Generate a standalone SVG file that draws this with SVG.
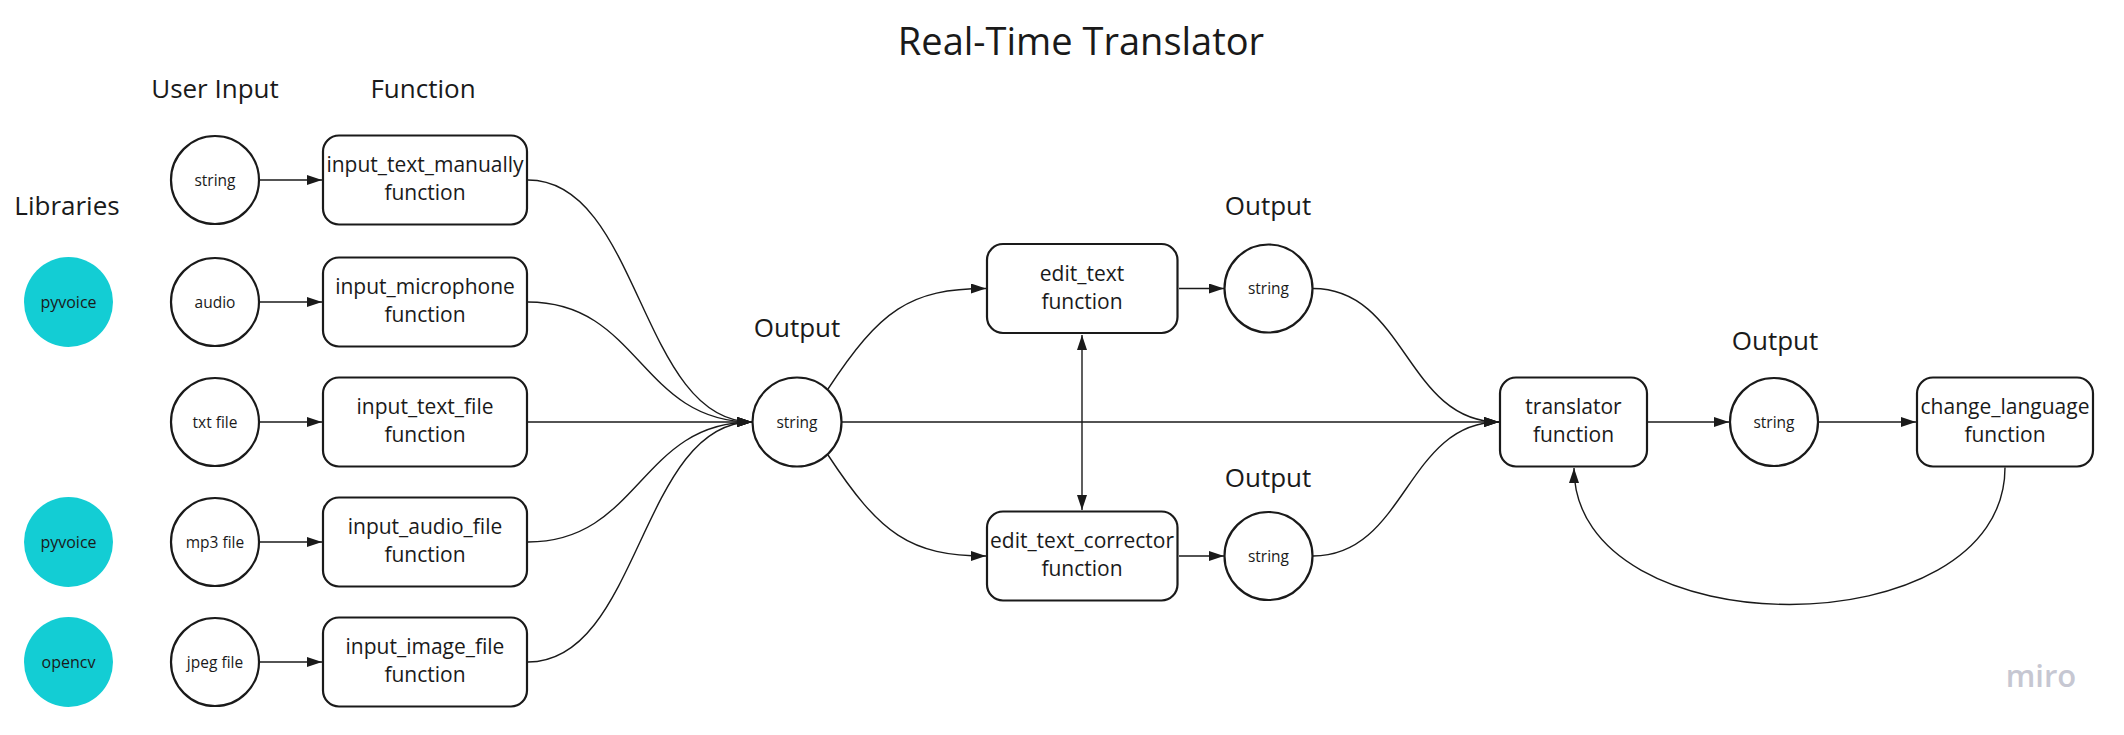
<svg xmlns="http://www.w3.org/2000/svg" width="2124" height="735" viewBox="0 0 2124 735">
<style>
text{font-family:"Open Sans","DejaVu Sans",sans-serif;fill:#1a1a1a;text-anchor:middle}
.title{font-size:38px}
.hdr{font-size:26px}
.lbl{font-size:21px}
.sm{font-size:15.5px}
.lib{font-size:16px;fill:#1a1a1a}
.node{fill:#fff;stroke:#1a1a1a;stroke-width:2.2}
.teal{fill:#13cdd4}
.conn path{fill:none;stroke:#1a1a1a;stroke-width:1.4}
.arr{marker-end:url(#ah)}
.wm{font-size:31px;font-weight:600;fill:#c6c7d2}
</style>
<defs>
<marker id="ah" markerUnits="userSpaceOnUse" markerWidth="16" markerHeight="11" refX="15" refY="5" orient="auto-start-reverse">
<path d="M0,0 L15,5 L0,10 Z" fill="#1a1a1a"/>
</marker>
</defs>
<rect width="2124" height="735" fill="#fff"/>

<g id="headers">
<text class="title" x="1081" y="55">Real-Time Translator</text>
<text class="hdr" x="215" y="98">User Input</text>
<text class="hdr" x="423" y="98">Function</text>
<text class="hdr" x="67" y="215">Libraries</text>
<text class="hdr" x="797" y="337">Output</text>
<text class="hdr" x="1268" y="215">Output</text>
<text class="hdr" x="1268" y="487">Output</text>
<text class="hdr" x="1775" y="350">Output</text>
</g>

<g id="lib-pyvoice-1"><ellipse class="teal" cx="68.5" cy="302" rx="44.5" ry="45"/><text class="lib" x="68.5" y="307.5">pyvoice</text></g>
<g id="lib-pyvoice-2"><ellipse class="teal" cx="68.5" cy="542" rx="44.5" ry="45"/><text class="lib" x="68.5" y="547.5">pyvoice</text></g>
<g id="lib-opencv"><ellipse class="teal" cx="68.5" cy="662" rx="44.5" ry="45"/><text class="lib" x="68.5" y="667.5">opencv</text></g>

<g id="in-string"><circle class="node" cx="215" cy="180" r="44"/><text class="sm" x="215" y="185.5">string</text></g>
<g id="in-audio"><circle class="node" cx="215" cy="302" r="44"/><text class="sm" x="215" y="307.5">audio</text></g>
<g id="in-txt"><circle class="node" cx="215" cy="422" r="44"/><text class="sm" x="215" y="427.5">txt file</text></g>
<g id="in-mp3"><circle class="node" cx="215" cy="542" r="44"/><text class="sm" x="215" y="547.5">mp3 file</text></g>
<g id="in-jpeg"><circle class="node" cx="215" cy="662" r="44"/><text class="sm" x="215" y="667.5">jpeg file</text></g>

<g id="fn-manual"><rect class="node" x="323" y="135.5" width="204" height="89" rx="16"/><text class="lbl" x="425" y="172">input_text_manually</text><text class="lbl" x="425" y="200">function</text></g>
<g id="fn-mic"><rect class="node" x="323" y="257.5" width="204" height="89" rx="16"/><text class="lbl" x="425" y="294">input_microphone</text><text class="lbl" x="425" y="322">function</text></g>
<g id="fn-textfile"><rect class="node" x="323" y="377.5" width="204" height="89" rx="16"/><text class="lbl" x="425" y="414">input_text_file</text><text class="lbl" x="425" y="442">function</text></g>
<g id="fn-audiofile"><rect class="node" x="323" y="497.5" width="204" height="89" rx="16"/><text class="lbl" x="425" y="534">input_audio_file</text><text class="lbl" x="425" y="562">function</text></g>
<g id="fn-imagefile"><rect class="node" x="323" y="617.5" width="204" height="89" rx="16"/><text class="lbl" x="425" y="654">input_image_file</text><text class="lbl" x="425" y="682">function</text></g>

<g id="out-string"><circle class="node" cx="797" cy="422" r="44.5"/><text class="sm" x="797" y="427.5">string</text></g>

<g id="fn-edit"><rect class="node" x="987" y="244" width="190.5" height="89" rx="16"/><text class="lbl" x="1082" y="280.5">edit_text</text><text class="lbl" x="1082" y="308.5">function</text></g>
<g id="edit-string"><circle class="node" cx="1268.5" cy="288.5" r="44"/><text class="sm" x="1268.5" y="294">string</text></g>

<g id="fn-corrector"><rect class="node" x="987" y="511.5" width="190.5" height="89" rx="16"/><text class="lbl" x="1082" y="548">edit_text_corrector</text><text class="lbl" x="1082" y="576">function</text></g>
<g id="corr-string"><circle class="node" cx="1268.5" cy="556" r="44"/><text class="sm" x="1268.5" y="561.5">string</text></g>

<g id="fn-translator"><rect class="node" x="1500" y="377.5" width="147" height="89" rx="16"/><text class="lbl" x="1573.5" y="414">translator</text><text class="lbl" x="1573.5" y="442">function</text></g>
<g id="trans-string"><circle class="node" cx="1774" cy="422" r="44"/><text class="sm" x="1774" y="427.5">string</text></g>
<g id="fn-change"><rect class="node" x="1917" y="377.5" width="176" height="89" rx="16"/><text class="lbl" x="2005" y="414">change_language</text><text class="lbl" x="2005" y="442">function</text></g>

<g id="connectors" class="conn">
<path class="arr" d="M260,180 L322,180"/>
<path class="arr" d="M260,302 L322,302"/>
<path class="arr" d="M260,422 L322,422"/>
<path class="arr" d="M260,542 L322,542"/>
<path class="arr" d="M260,662 L322,662"/>
<path class="arr" d="M528,180 C640,180 640,422 752,422"/>
<path class="arr" d="M528,302 C640,302 640,422 752,422"/>
<path class="arr" d="M528,422 L752,422"/>
<path class="arr" d="M528,542 C640,542 640,422 752,422"/>
<path class="arr" d="M528,662 C640,662 640,422 752,422"/>
<path class="arr" d="M828,389 C880,310 910,288.5 986,288.5"/>
<path class="arr" d="M828,455 C880,534 910,556 986,556"/>
<path class="arr" d="M842,422 L1499,422"/>
<path class="arr" d="M1179,288.5 L1224,288.5"/>
<path class="arr" d="M1179,556 L1224,556"/>
<path d="M1082,335 L1082,510" marker-start="url(#ah)" marker-end="url(#ah)"/>
<path class="arr" d="M1313,288.5 C1406,288.5 1406,422 1499,422"/>
<path class="arr" d="M1313,556 C1406,556 1406,422 1499,422"/>
<path class="arr" d="M1648,422 L1729,422"/>
<path class="arr" d="M1819,422 L1916,422"/>
<path class="arr" d="M2005,467.5 C2005,650 1574,650 1574,468"/>
</g>

<text class="wm" x="2041" y="687">miro</text>
</svg>
